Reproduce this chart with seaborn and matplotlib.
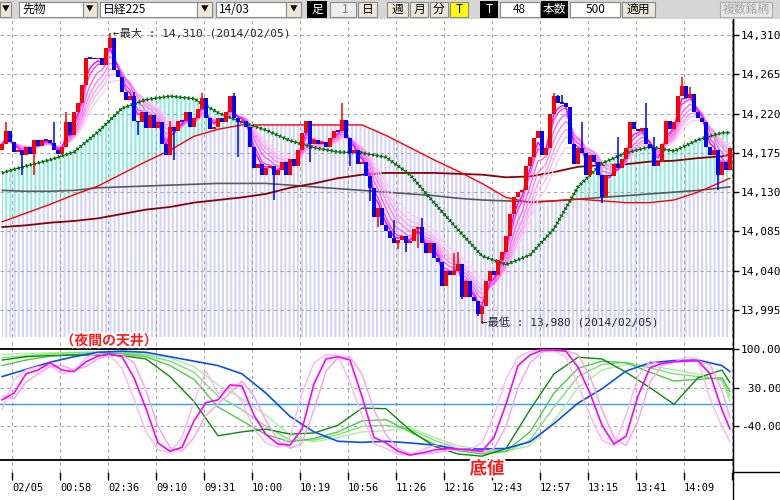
import numpy as np
import pandas as pd
import matplotlib
matplotlib.use("Agg")
import matplotlib.pyplot as plt
import matplotlib.patheffects as pe
from matplotlib.patches import Rectangle
from matplotlib.lines import Line2D
import seaborn as sns

# ---------------- data ----------------
closes = [
    14185, 14200, 14188, 14176, 14178, 14172, 14182, 14174, 14190, 14183,
    14190, 14190, 14186, 14178, 14174, 14182, 14210, 14195, 14222, 14232,
    14253, 14284, 14284, 14282, 14284, 14276, 14295, 14307, 14270, 14262,
    14245, 14235, 14240, 14212, 14210, 14222, 14204, 14218, 14204, 14210,
    14185, 14172, 14205, 14200, 14212, 14212, 14222, 14205, 14215, 14225,
    14238, 14215, 14202, 14205, 14215, 14210, 14222, 14240, 14215, 14210,
    14212, 14205, 14182, 14158, 14162, 14150, 14158, 14160, 14150, 14155,
    14165, 14150, 14168, 14160, 14178, 14198, 14212, 14185, 14190, 14185,
    14188, 14182, 14192, 14200, 14200, 14213, 14192, 14175, 14178, 14162,
    14165, 14148, 14135, 14102, 14112, 14092, 14085, 14078, 14072, 14075,
    14080, 14072, 14074, 14088, 14090, 14072, 14060, 14072, 14055, 14050,
    14022, 14040, 14035, 14040, 14048, 14010, 14028, 14010, 14005, 13990,
    14000, 14028, 14040, 14035, 14052, 14062, 14080, 14105, 14125, 14130,
    14133, 14160, 14170, 14192, 14200, 14172, 14180, 14220, 14240, 14232,
    14232, 14228, 14185, 14162, 14180, 14175, 14150, 14172, 14165, 14150,
    14125, 14150, 14148, 14162, 14158, 14168, 14180, 14210, 14202, 14200,
    14203, 14185, 14180, 14160, 14165, 14185, 14212, 14202, 14210, 14240,
    14252, 14238, 14242, 14222, 14215, 14210, 14182, 14172, 14178, 14150,
    14165, 14155, 14180,
]
first_open = 14178
wick_highs = {1: 14210, 13: 14210, 16: 14222, 27: 14312, 33: 14245, 42: 14212,
              50: 14244, 58: 14244, 85: 14232, 98: 14098, 105: 14100, 113: 14060,
              114: 14062, 138: 14244, 139: 14241, 140: 14241, 145: 14210,
              154: 14193, 161: 14232, 163: 14193, 170: 14262, 172: 14250}
wick_lows = {5: 14150, 8: 14150, 34: 14195, 43: 14167, 59: 14170, 68: 14121,
             77: 14165, 87: 14160, 92: 14120, 94: 14090, 99: 14065, 101: 14062,
             104: 14066, 115: 14008, 119: 13988, 120: 13980, 150: 14118,
             179: 14133}

sample_bars = [0, 6, 12, 18, 24, 30, 36, 42, 48, 54, 60, 66, 72, 78, 84, 90,
               96, 102, 108, 114, 120, 126, 132, 138, 144, 150, 156, 162, 168,
               174, 180, 182]
ma_green = [14152, 14160, 14167, 14176, 14199, 14226, 14236, 14240, 14237, 14221,
            14210, 14201, 14189, 14181, 14176, 14175, 14170, 14150, 14118, 14087,
            14057, 14047, 14058, 14088, 14136, 14163, 14175, 14182, 14177, 14190,
            14198, 14198]
ma_red = [14096, 14106, 14116, 14127, 14137, 14151, 14165, 14178, 14194, 14202,
          14207, 14207, 14207, 14207, 14207, 14207, 14195, 14181, 14167, 14154,
          14140, 14124, 14118, 14120, 14122, 14120, 14118, 14118, 14121, 14130,
          14142, 14146]
ma_darkred = [14090, 14092, 14095, 14097, 14100, 14105, 14110, 14113, 14118, 14121,
              14124, 14128, 14135, 14140, 14146, 14150, 14152, 14152, 14152, 14151,
              14150, 14147, 14148, 14153, 14159, 14161, 14162, 14165, 14166, 14169,
              14171, 14173]
ma_gray = [14132, 14131, 14131, 14132, 14135, 14136, 14137, 14138, 14139, 14140,
           14140, 14140, 14138, 14136, 14134, 14132, 14130, 14128, 14126, 14123,
           14121, 14120, 14119, 14120, 14122, 14124, 14126, 14128, 14130, 14132,
           14135, 14136]
ribbon_spans = [15, 12, 10, 8, 6, 4, 3]

osc_blue = [50, 63, 76, 86, 94, 96, 94, 86, 78, 70, 55, 20, -22, -50, -67, -69,
            -67, -70, -74, -81, -81, -80, -68, -35, 2, 28, 60, 75, 79, 80, 70, 59]
osc_green = [80, 86, 88, 89, 89, 88, 82, 50, 5, -57, -50, -45, -54, -52, -38, -7,
             -8, -47, -76, -90, -94, -80, -10, 55, 85, 82, 58, 30, 0, 48, 62, 39]
osc_green_a = [70, 80, 87, 90, 92, 91, 86, 70, 45, -5, -30, -55, -68, -62, -50, -30,
               -28, -50, -72, -84, -90, -85, -50, 20, 65, 78, 75, 58, 42, 45, 48, 23]
osc_green_b = [84, 88, 91, 93, 94, 93, 89, 78, 58, 15, -10, -40, -65, -65, -55, -40,
               -38, -45, -65, -80, -86, -86, -65, -5, 50, 72, 76, 66, 55, 50, 45, 14]
osc_green_c = [90, 92, 93, 94, 95, 94, 91, 84, 68, 35, 10, -20, -55, -68, -60, -50,
               -48, -42, -60, -75, -82, -85, -75, -30, 30, 62, 72, 70, 62, 55, 42, 5]

fine_bars = [0, 3, 6, 9, 12, 15, 18, 21, 24, 27, 30, 33, 36, 39, 42, 45, 48, 51,
             54, 57, 60, 63, 66, 69, 72, 75, 78, 81, 84, 87, 90, 93, 96, 99, 102,
             105, 108, 111, 114, 117, 120, 123, 126, 129, 132, 135, 138, 141, 144,
             147, 150, 153, 156, 159, 162, 165, 168, 171, 174, 177, 180, 182]
osc_magenta = [8, 20, 55, 62, 75, 62, 59, 77, 87, 91,
               86, 48, -8, -70, -85, -78, -30, 3, 8, 35,
               33, -20, -55, -72, -74, -45, 37, 82, 86, 80,
               14, -60, -70, -85, -92, -88, -83, -80, -81, -83,
               -85, -60, 0, 70, 89, 98, 98, 96, 67, 20,
               -38, -72, -58, 15, 66, 74, 77, 78, 79, 55,
               -10, -45]
osc_pink_lead = [-10, 45, 62, 68, 70, 55, 60, 85, 92, 88,
                 65, 10, -50, -82, -88, -60, 5, 60, 20, 30,
                 5, -45, -70, -78, -60, 20, 75, 90, 88, 40,
                 -20, -72, -80, -90, -92, -82, -75, -70, -80, -82,
                 -70, -20, 45, 85, 96, 98, 98, 85, 35, -20,
                 -65, -75, -20, 50, 78, 72, 76, 85, 82, 10,
                 -40, -68]
osc_pink_lag = [15, 10, 40, 55, 68, 70, 62, 68, 82, 90,
                90, 75, 25, -40, -78, -85, -60, -20, 0, 20,
                42, 15, -30, -65, -80, -70, -10, 60, 84, 86,
                55, -10, -55, -80, -90, -90, -88, -84, -82, -84,
                -88, -80, -40, 30, 75, 94, 98, 97, 90, 50,
                -10, -60, -75, -30, 40, 70, 76, 78, 78, 72,
                25, -25]

price_ticks = [13995, 14040, 14085, 14130, 14175, 14220, 14265, 14310]
osc_ticks = [-40, 30, 100]
osc_tick_labels = ["-40.00", " 30.00", "100.00"]
time_labels = ["02/05", "00:58", "02:36", "09:10", "09:31", "10:00", "10:19", "10:56",
               "11:26", "12:16", "12:43", "12:57", "13:15", "13:41", "14:09"]
max_label = "←最大 : 14,310 (2014/02/05)"
min_label = "←最低 : 13,980 (2014/02/05)"
night_label = "（夜間の天井）"
bottom_label = "底値"

# ---------------- style ----------------
sns.set_style("white")
plt.rcParams['font.family'] = ['DejaVu Sans', 'Noto Sans CJK JP']
plt.rcParams['hatch.linewidth'] = 1.5
MONO = ['DejaVu Sans Mono', 'Noto Sans CJK JP']
CJK = ['Noto Sans CJK JP', 'DejaVu Sans']

W, H = 780, 500
fig = plt.figure(figsize=(W / 100, H / 100), dpi=100)
fig.patch.set_facecolor('white')

def fx(x):
    return x / W

def fy(y):
    return 1 - y / H

AX_R = 733
ax = fig.add_axes([0, fy(337), fx(AX_R), (337 - 19) / H])
ax2 = fig.add_axes([0, fy(472), fx(AX_R), (472 - 338) / H])

YLO, YHI = 13964.1, 14328.3
XLO, XHI = -0.5, 182.75
tick_pos = [2.5 + 12 * k for k in range(16)]
grid_kw = dict(color='#A8A8A8', lw=0.8, ls=(0, (3, 3)), zorder=1.5)

# ---------------- main panel ----------------
sb = np.array(sample_bars, float)
g = np.array(ma_green, float)
r = np.array(ma_red, float)
dr = np.array(ma_darkred, float)
gr = np.array(ma_gray, float)

ax.fill_between(sb, YLO, r, facecolor='none', edgecolor='#D4D4F8', hatch='||||',
                lw=0, zorder=1)
ax.fill_between(sb, r, g, where=g > r, interpolate=True, facecolor='none',
                edgecolor='#90EBE3', hatch='||||', lw=0, zorder=1.1)

for p in price_ticks:
    ax.axhline(p, **grid_kw)
for t in tick_pos:
    ax.axvline(t, **grid_kw)

sns.lineplot(x=sb, y=gr, ax=ax, color='#5A5A5A', linewidth=1.2, zorder=3)
sns.lineplot(x=sb, y=dr, ax=ax, color='#8B0000', linewidth=1.3, zorder=3)
sns.lineplot(x=sb, y=r, ax=ax, color='#FF0000', linewidth=1.0, zorder=3)

bars = np.arange(len(closes))
cl = pd.Series(closes, dtype=float)
ribbon_cols = ['#FFCCF2', '#FFB6F0', '#FF9EF0', '#FF84F2', '#FF64F4', '#FF3CF8',
               '#FF00FF']
for span, col in zip(ribbon_spans, ribbon_cols):
    ema = cl.ewm(span=span, adjust=False).mean().values
    sns.lineplot(x=bars, y=ema, ax=ax, color=col, linewidth=1.0, zorder=4)

sns.lineplot(x=sb, y=g, ax=ax, color='#006400', linewidth=0.8, zorder=4.5)
ax.plot(sb, g, color='#007000', lw=2.6, ls=(0, (0.45, 0.7)), zorder=4.6)

closes_a = np.array(closes, float)
opens_a = np.r_[first_open, closes_a[:-1]]
up = closes_a > opens_a
cols = np.where(up, '#FF0000', '#0000FF')
body_lo = np.minimum(opens_a, closes_a)
body_hi = np.maximum(opens_a, closes_a)
ax.bar(bars, body_hi - body_lo, bottom=body_lo, width=0.92, color=cols, lw=0, zorder=6)
doji = (body_hi - body_lo) < 1.5
ax.hlines(closes_a[doji], bars[doji] - 0.5, bars[doji] + 0.5, color='#0000FF',
          lw=1.3, zorder=6)
for i, h in wick_highs.items():
    ax.vlines(i, body_hi[i], h, color=cols[i], lw=1.1, zorder=5.5)
for i, l in wick_lows.items():
    ax.vlines(i, l, body_lo[i], color=cols[i], lw=1.1, zorder=5.5)

ax.text(27.75, 14312, max_label, fontsize=8, family=MONO, va='center', ha='left',
        zorder=8)
ax.text(119.75, 13980, min_label, fontsize=8, family=MONO, va='center', ha='left',
        zorder=8)

ax.set_xlim(XLO, XHI)
ax.set_ylim(YLO, YHI)
ax.set_xticks([])
ax.yaxis.tick_right()
ax.set_yticks(price_ticks)
ax.set_yticklabels([f"{p:,}" for p in price_ticks])
ax.tick_params(axis='y', right=True, length=4, width=1, pad=1.5, labelsize=8,
               colors='black')
for lbl in ax.get_yticklabels():
    lbl.set_family(MONO)
for s in ['left', 'top', 'bottom']:
    ax.spines[s].set_visible(False)
ax.spines['right'].set_color('black')
ax.spines['right'].set_linewidth(1.0)
ax.set_xlabel('')
ax.set_ylabel('')

# ---------------- oscillator panel ----------------
for v in [30, -40]:
    ax2.axhline(v, **grid_kw)
for t in tick_pos:
    ax2.axvline(t, **grid_kw)
ax2.axhline(100, color='black', lw=1.3, zorder=2)
ax2.axhline(-100, color='black', lw=1.3, zorder=2)
ax2.axhline(0, color='#2E9BFF', lw=1.0, zorder=2)

fb = np.array(fine_bars, float)
for xs, vals, col, lw in [(sb, osc_green_c, '#A8F0A0', 1.0),
                          (sb, osc_green_b, '#80E078', 1.0),
                          (sb, osc_green_a, '#4CCB44', 1.0),
                          (sb, osc_green, '#0A8A0A', 1.0),
                          (sb, osc_blue, '#0A50F0', 1.2),
                          (fb, osc_pink_lag, '#FF9CEE', 1.0),
                          (fb, osc_pink_lead, '#FFB4F2', 1.0),
                          (fb, osc_magenta, '#FF00FF', 1.2)]:
    sns.lineplot(x=xs, y=np.array(vals, float), ax=ax2, color=col, linewidth=lw,
                 zorder=3)

ax2.set_xlim(XLO, XHI)
ax2.set_ylim(-122.6, 119.9)
ax2.set_xticks(tick_pos)
ax2.set_xticklabels(time_labels + [''], ha='left')
ax2.tick_params(axis='x', bottom=True, length=6, width=1, pad=2, labelsize=7.5,
                colors='black', direction='out')
for lbl in ax2.get_xticklabels():
    lbl.set_family(MONO)
ax2.yaxis.tick_right()
ax2.set_yticks(osc_ticks)
ax2.set_yticklabels(osc_tick_labels)
ax2.tick_params(axis='y', right=True, length=4, width=1, pad=1.5, labelsize=8,
                colors='black')
for lbl in ax2.get_yticklabels():
    lbl.set_family(MONO)
for s in ['left', 'top', 'bottom']:
    ax2.spines[s].set_visible(False)
ax2.spines['right'].set_color('black')
ax2.set_xlabel('')
ax2.set_ylabel('')

# extra frame lines
fig.add_artist(Line2D([fx(AX_R), fx(AX_R)], [0, fy(19)], color='black', lw=1.0))
fig.add_artist(Line2D([fx(AX_R), 1], [fy(472), fy(472)], color='black', lw=1.0))

# red notes
stroke = [pe.withStroke(linewidth=3, foreground='white')]
fig.text(fx(109), fy(341), night_label, ha='center', va='center', fontsize=10,
         weight='bold', color='#FF1A1A', family=CJK, path_effects=stroke, zorder=10)
fig.text(fx(487), fy(469), bottom_label, ha='center', va='center', fontsize=12.5,
         weight='bold', color='#FF1A1A', family=CJK, path_effects=stroke, zorder=10)

# ---------------- toolbar ----------------
def rect(x0, y0, x1, y1, fc, ec='none', lw=0.8):
    fig.add_artist(Rectangle((fx(x0), fy(y1)), fx(x1) - fx(x0), (y1 - y0) / H,
                             transform=fig.transFigure, facecolor=fc, edgecolor=ec,
                             lw=lw))

def label(x, y, s, ha='left', color='black', size=8.5):
    fig.text(fx(x), fy(y), s, ha=ha, va='center', fontsize=size, color=color,
             family=CJK)

rect(0, 0, W, 18.5, '#D6D6D6')
BTN = '#ECE9D8'
EDGE = '#8A8A8A'
for (a, b, txt) in [(19, 83, "先物"), (100, 197, "日経225"), (216, 286, "14/03")]:
    rect(a, 2, b, 17, 'white', EDGE)
    label(a + 3, 9.5, txt)
for (a, b) in [(0, 11), (83, 97), (197, 212), (286, 301)]:
    rect(a, 2.5, b, 16.5, BTN, EDGE)
    label((a + b) / 2, 10, "▼", ha='center', size=5.5)
rect(307, 1.5, 327, 17.5, 'black')
label(317, 9.5, "足", ha='center', color='white')
rect(330, 2, 356, 17, '#EFEFEF', EDGE)
label(349, 9.5, "1", ha='right', color='#808080')
for (a, b, txt) in [(358, 377, "日"), (387, 408, "週"), (410, 428, "月"),
                    (430, 448, "分")]:
    rect(a, 2, b, 17, BTN, EDGE)
    label((a + b) / 2, 9.5, txt, ha='center')
rect(450, 2, 468, 17, '#FFFF00', EDGE)
label(459, 9.5, "T", ha='center')
rect(480, 1.5, 498, 17.5, 'black')
label(489, 9.5, "T", ha='center', color='white')
rect(500, 2, 540, 17, 'white', EDGE)
label(526, 9.5, "48", ha='right')
rect(541, 1.5, 568, 17.5, 'black')
label(554.5, 9.5, "本数", ha='center', color='white')
rect(570, 2, 620, 17, 'white', EDGE)
label(606, 9.5, "500", ha='right')
rect(622, 2, 655, 17, BTN, EDGE)
label(638.5, 9.5, "適用", ha='center')
rect(720, 2, 772, 17, '#E6E6E6', '#B0B0B0')
label(746, 9.5, "複数銘柄", ha='center', color='#A8A8A8')

fig.savefig("out.png", dpi=100)
